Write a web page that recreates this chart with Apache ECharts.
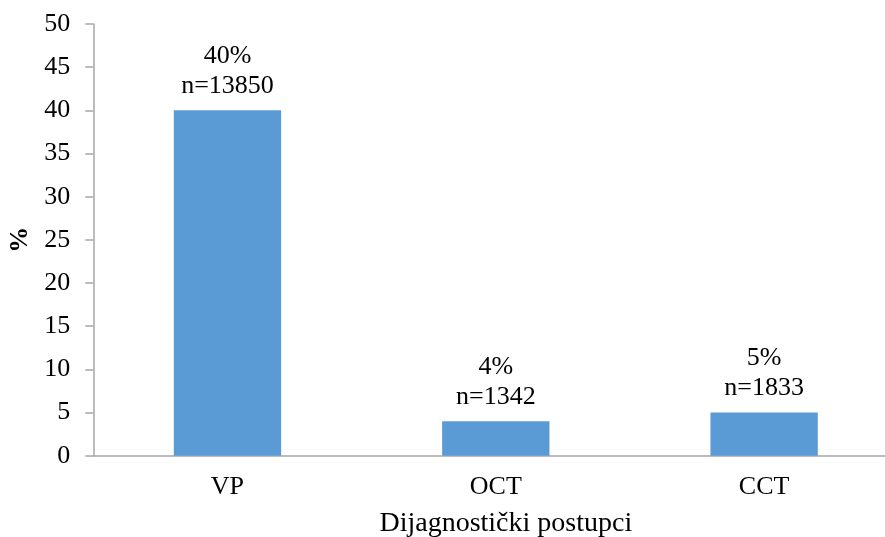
<!DOCTYPE html>
<html>
<head>
<meta charset="utf-8">
<script src="https://cdn.jsdelivr.net/npm/echarts@6/dist/echarts.min.js"></script>
<style>html,body{margin:0;padding:0;background:#fff}#c{width:885px;height:537px}</style>
</head>
<body>
<div id="c"></div>
<script>
const categories = ['VP', 'OCT', 'CCT'];
const percentValues = [40, 4, 5];
const counts = [13850, 1342, 1833];
const yTicks = [0, 5, 10, 15, 20, 25, 30, 35, 40, 45, 50];

const chart = echarts.init(document.getElementById('c'));
const font = '"Liberation Serif", "Times New Roman", serif';
chart.setOption({
  animation: false,
  grid: { left: 93.3, right: -13.3, top: 24, bottom: 81.3, containLabel: false, outerBoundsMode: 'none' },
  xAxis: {
    type: 'category',
    data: categories,
    name: 'Dijagnostički postupci',
    nameLocation: 'middle',
    nameGap: 62,
    nameMoveOverlap: false,
    nameTextStyle: { fontFamily: font, fontSize: 28, lineHeight: 12, color: '#000', padding: [0, 0, 0, 20] },
    axisLine: { lineStyle: { color: '#A6A6A6', width: 1.5 } },
    axisTick: { show: false },
    axisLabel: { fontFamily: font, fontSize: 26, color: '#000', margin: 18 }
  },
  yAxis: {
    type: 'value',
    min: yTicks[0],
    max: yTicks[yTicks.length - 1],
    interval: 5,
    name: '%',
    nameLocation: 'middle',
    nameGap: 56,
    nameTextStyle: { fontFamily: font, fontSize: 26, fontWeight: 'bold', color: '#000' },
    axisLine: { show: true, lineStyle: { color: '#A6A6A6', width: 1.5 } },
    axisTick: { show: true, length: 8, lineStyle: { color: '#A6A6A6', width: 1.5 } },
    splitLine: { show: false },
    axisLabel: { fontFamily: font, fontSize: 26, color: '#000', margin: 23 }
  },
  series: [{
    type: 'bar',
    data: percentValues,
    barWidth: '40%',
    itemStyle: { color: '#5B9BD5' },
    label: {
      show: true,
      position: 'top',
      distance: 9,
      fontFamily: font,
      fontSize: 26,
      lineHeight: 30,
      color: '#000',
      formatter: p => p.value + '%\nn=' + counts[p.dataIndex]
    }
  }]
});
</script>
</body>
</html>
